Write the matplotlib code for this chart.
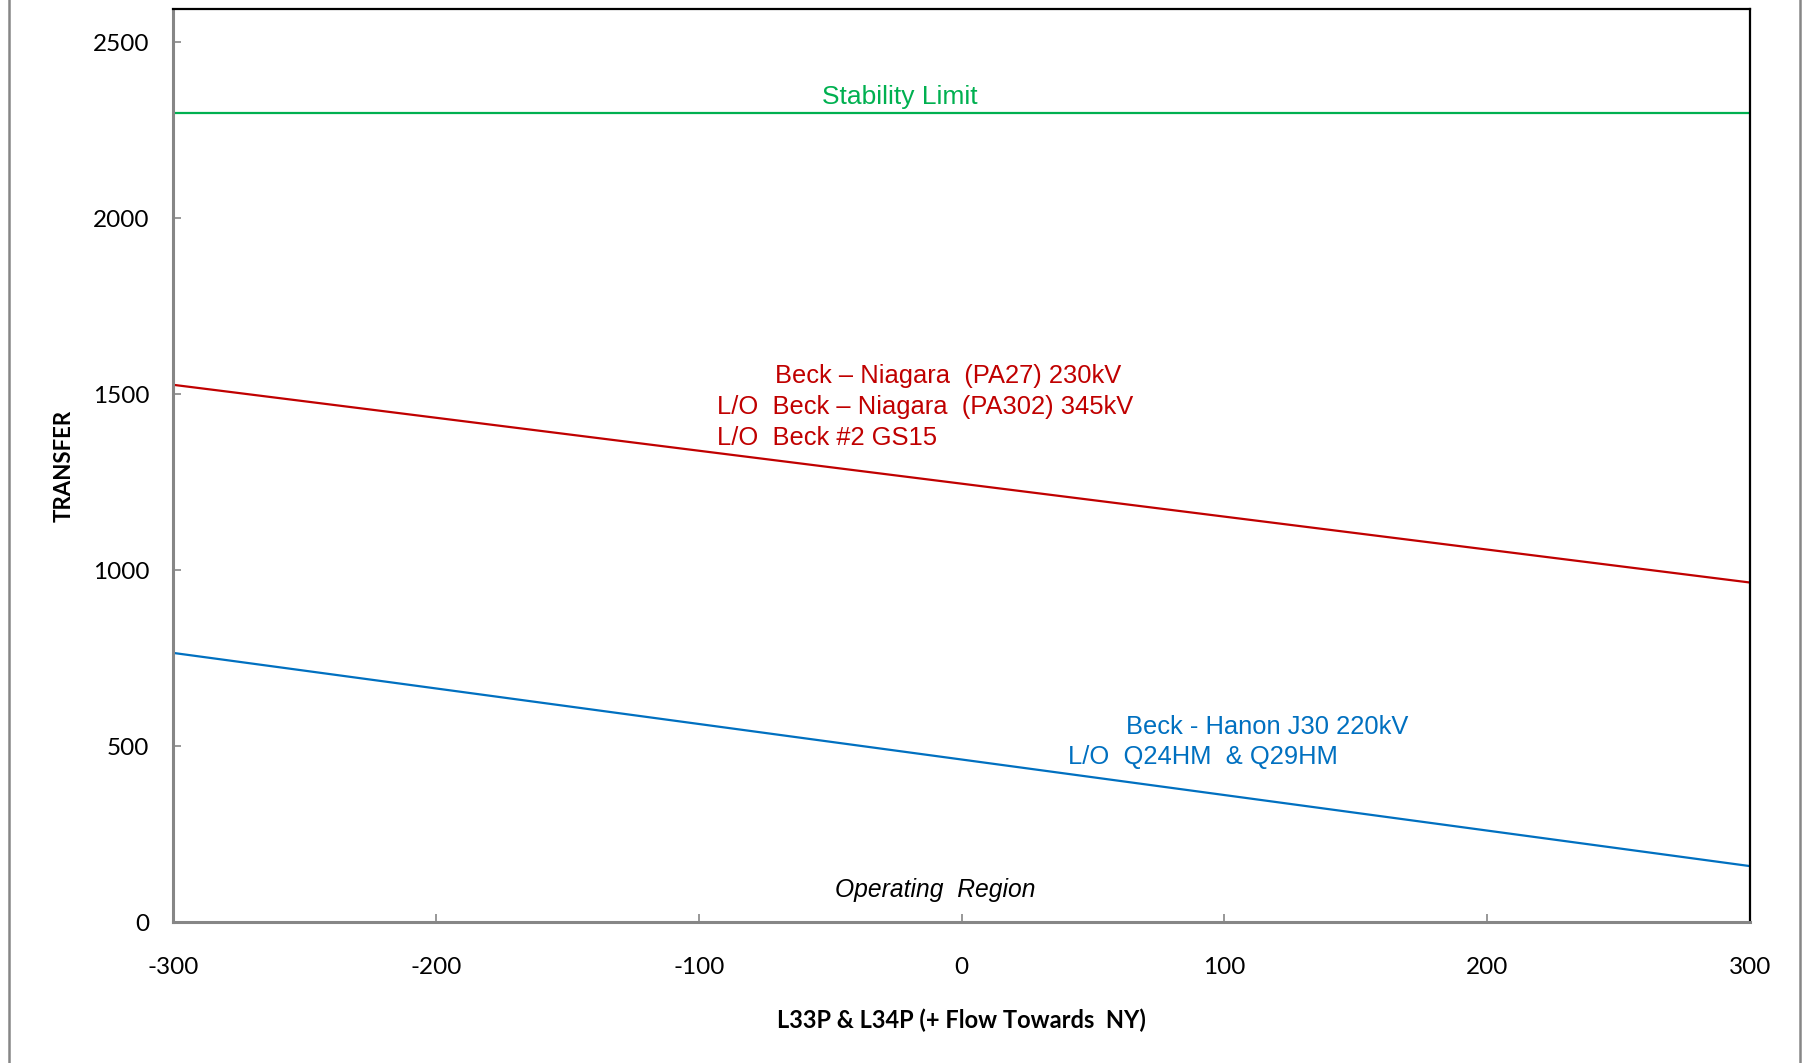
import numpy as np
import matplotlib.pyplot as plt
from matplotlib.lines import Line2D

# flow on L33P & L34P (MW) and transfer limits
flow = [-300, 300]
stability_limit = [2300, 2300]
pa27_limit = [1527, 965]
j30_limit = [765, 159]

xticks = [-300, -200, -100, 0, 100, 200, 300]
yticks = [0, 500, 1000, 1500, 2000, 2500]

red = '#C00000'
blue = '#0070C0'
green = '#00B050'
gray = '#868686'

fig = plt.figure(figsize=(18.03, 10.63), dpi=100)
ax = fig.add_axes([0.0960, 0.1326, 0.8746, 0.8589])

ax.plot(flow, stability_limit, color=green, lw=1.6, solid_capstyle='butt')
ax.plot(flow, pa27_limit, color=red, lw=1.6, solid_capstyle='butt')
ax.plot(flow, j30_limit, color=blue, lw=1.6, solid_capstyle='butt')

ax.set_xlim(-300, 300)
ax.set_ylim(0, 2595)
ax.set_xticks(xticks)
ax.set_yticks(yticks)
ax.set_xticklabels([str(v) for v in xticks], family='Lato', fontsize=17.5)
ax.set_yticklabels([str(v) for v in yticks], family='Lato', fontsize=17.5)
ax.tick_params(axis='both', direction='in', length=6, width=1.2, color=gray)
ax.tick_params(axis='x', pad=25)
ax.tick_params(axis='y', pad=17)

for s in ['left', 'bottom']:
    ax.spines[s].set_color(gray)
    ax.spines[s].set_linewidth(2.2)
for s in ['top', 'right']:
    ax.spines[s].set_color('black')
    ax.spines[s].set_linewidth(1.6)

ax.set_xlabel('L33P & L34P (+ Flow Towards  NY)', family='Lato', fontweight='bold',
              fontsize=17, labelpad=22)
ax.set_ylabel('TRANSFER', family='Lato', fontweight='bold', fontsize=16, labelpad=13)

tf = dict(family='Liberation Sans', va='baseline', ha='left')
ax.text(-23.5, 2324, 'Stability Limit', color=green, fontsize=19, ha='center',
        va='baseline', family='Liberation Sans')
ax.text(-71, 1531, 'Beck \u2013 Niagara  (PA27) 230kV', color=red, fontsize=18.4, **tf)
ax.text(-93, 1443, 'L/O  Beck \u2013 Niagara  (PA302) 345kV', color=red, fontsize=18.4, **tf)
ax.text(-93, 1355, 'L/O  Beck #2 GS15', color=red, fontsize=18.4, **tf)
ax.text(62.6, 534, 'Beck - Hanon J30 220kV', color=blue, fontsize=18.4, **tf)
ax.text(40.5, 449, 'L/O  Q24HM  & Q29HM', color=blue, fontsize=18.4, **tf)
ax.text(-10, 72, 'Operating  Region', color='black', fontsize=17.7, style='italic',
        ha='center', va='baseline', family='Liberation Sans')

# outer chart-area border (only the sides are visible in the picture)
for xf in [9 / 1803, 1800 / 1803]:
    fig.add_artist(Line2D([xf, xf], [0, 1], transform=fig.transFigure,
                          color=gray, lw=1.8))

fig.savefig('out.png', dpi=100)
